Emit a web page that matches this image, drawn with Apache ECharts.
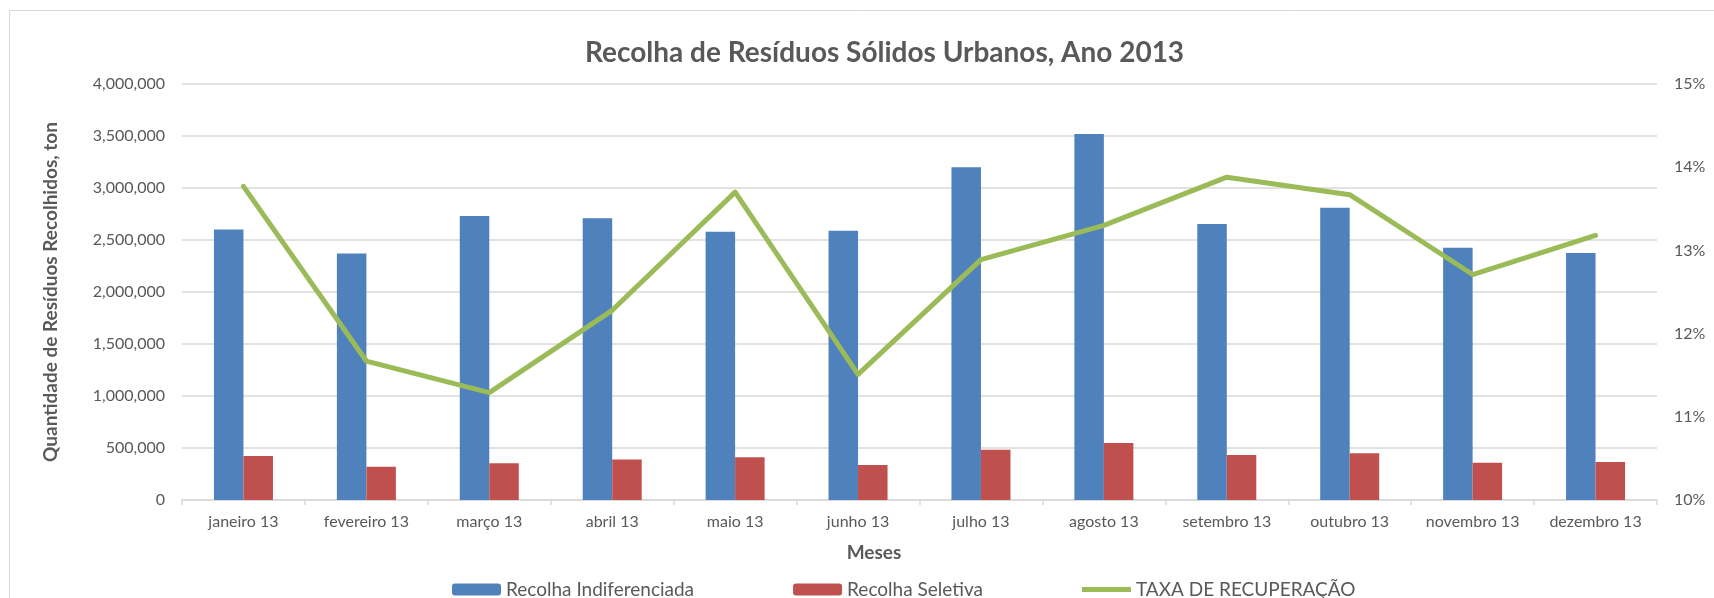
<!DOCTYPE html>
<html lang="pt">
<head>
    <meta charset="UTF-8">
    <title>Recolha de Resíduos Sólidos Urbanos, Ano 2013</title>
    <script src="https://cdn.jsdelivr.net/npm/echarts@6/dist/echarts.min.js"></script>
    <style>
        html, body { margin: 0; padding: 0; background: #fff; }
    </style>
</head>
<body>
<div class="container" style="width: 1714px;height:598px;"></div>
<script>
    let months = ['janeiro 13', 'fevereiro 13', 'março 13', 'abril 13', 'maio 13', 'junho 13',
        'julho 13', 'agosto 13', 'setembro 13', 'outubro 13', 'novembro 13', 'dezembro 13'];
    let indiferenciada = [2600000, 2370000, 2730000, 2710000, 2580000, 2590000,
        3200000, 3520000, 2655000, 2810000, 2425000, 2375000];
    let seletiva = [422000, 319000, 354000, 390000, 410000, 337000,
        484000, 548000, 433000, 450000, 359000, 366000];
    let taxa = [13.77, 11.67, 11.29, 12.28, 13.70, 11.51, 12.89, 13.30, 13.88, 13.67, 12.71, 13.18];

    let container = document.querySelector('.container');
    let mycharts = echarts.init(container);

    let font = 'Lato';
    let grey = '#595959';
    // thin bar inside a 49x12 box (tiny corner points keep the box size)
    let lineIcon = 'path://M0,0L0.01,0L0,0.01Z M0,3.5L49,3.5L49,8.5L0,8.5Z M49,12L48.99,12L49,11.99Z';

    let option = {
        backgroundColor: '#ffffff',
        textStyle: { fontFamily: font },
        title: {
            text: 'Recolha de Resíduos Sólidos Urbanos, Ano 2013',
            left: 580,
            top: 34,
            textStyle: { fontSize: 28, fontWeight: 'bold', color: grey, fontFamily: font }
        },
        graphic: [
            {
                type: 'rect',
                shape: { x: 9.5, y: 10.5, width: 1800, height: 700 },
                style: { fill: 'none', stroke: '#d9d9d9', lineWidth: 1 },
                silent: true
            },
            {
                type: 'text',
                x: 874, y: 553,
                style: {
                    text: 'Meses', fill: grey, font: 'bold 19px Lato',
                    textAlign: 'center', textVerticalAlign: 'middle'
                }
            }
        ],
        grid: { left: 182, right: 57, top: 84, bottom: 98 },
        legend: {
            left: 447,
            top: 575,
            itemWidth: 49,
            itemHeight: 12,
            itemGap: 99,
            textStyle: { fontSize: 19, color: grey, fontFamily: font },
            data: [
                'Recolha Indiferenciada',
                'Recolha Seletiva',
                { name: 'TAXA DE RECUPERAÇÃO', icon: lineIcon }
            ]
        },
        xAxis: {
            type: 'category',
            data: months,
            axisLine: { lineStyle: { color: '#d9d9d9', width: 1.5 } },
            axisTick: { show: true, length: 5, lineStyle: { color: '#d9d9d9', width: 1.5 } },
            axisLabel: { fontSize: 16, color: grey, margin: 14, fontFamily: font, interval: 0 }
        },
        yAxis: [
            {
                type: 'value',
                min: 0,
                max: 4000000,
                interval: 500000,
                name: 'Quantidade de Resíduos Recolhidos, ton',
                nameLocation: 'middle',
                nameGap: 122,
                nameRotate: 90,
                nameTextStyle: { fontSize: 19, fontWeight: 'bold', color: grey, fontFamily: font },
                axisLine: { show: false },
                axisTick: { show: false },
                axisLabel: {
                    fontSize: 16, color: grey, margin: 17, fontFamily: font,
                    formatter: v => v.toLocaleString('en-US')
                },
                splitLine: { lineStyle: { color: '#d9d9d9', width: 1.5 } }
            },
            {
                type: 'value',
                min: 10,
                max: 15,
                interval: 1,
                position: 'right',
                axisLine: { show: false },
                axisTick: { show: false },
                axisLabel: {
                    fontSize: 16, color: grey, margin: 17, fontFamily: font,
                    formatter: v => v + '%'
                },
                splitLine: { show: false }
            }
        ],
        series: [
            {
                name: 'Recolha Indiferenciada',
                type: 'bar',
                data: indiferenciada,
                barWidth: '24%',
                barGap: '0%',
                itemStyle: { color: '#4f81bd' }
            },
            {
                name: 'Recolha Seletiva',
                type: 'bar',
                data: seletiva,
                barWidth: '24%',
                barGap: '0%',
                itemStyle: { color: '#c0504d' }
            },
            {
                name: 'TAXA DE RECUPERAÇÃO',
                type: 'line',
                yAxisIndex: 1,
                data: taxa,
                symbol: 'none',
                itemStyle: { color: '#9bbb59' },
                lineStyle: { color: '#9bbb59', width: 5, cap: 'round', join: 'round' },
                z: 5
            }
        ],
        animation: false
    };

    mycharts.setOption(option);
</script>
</body>
</html>
